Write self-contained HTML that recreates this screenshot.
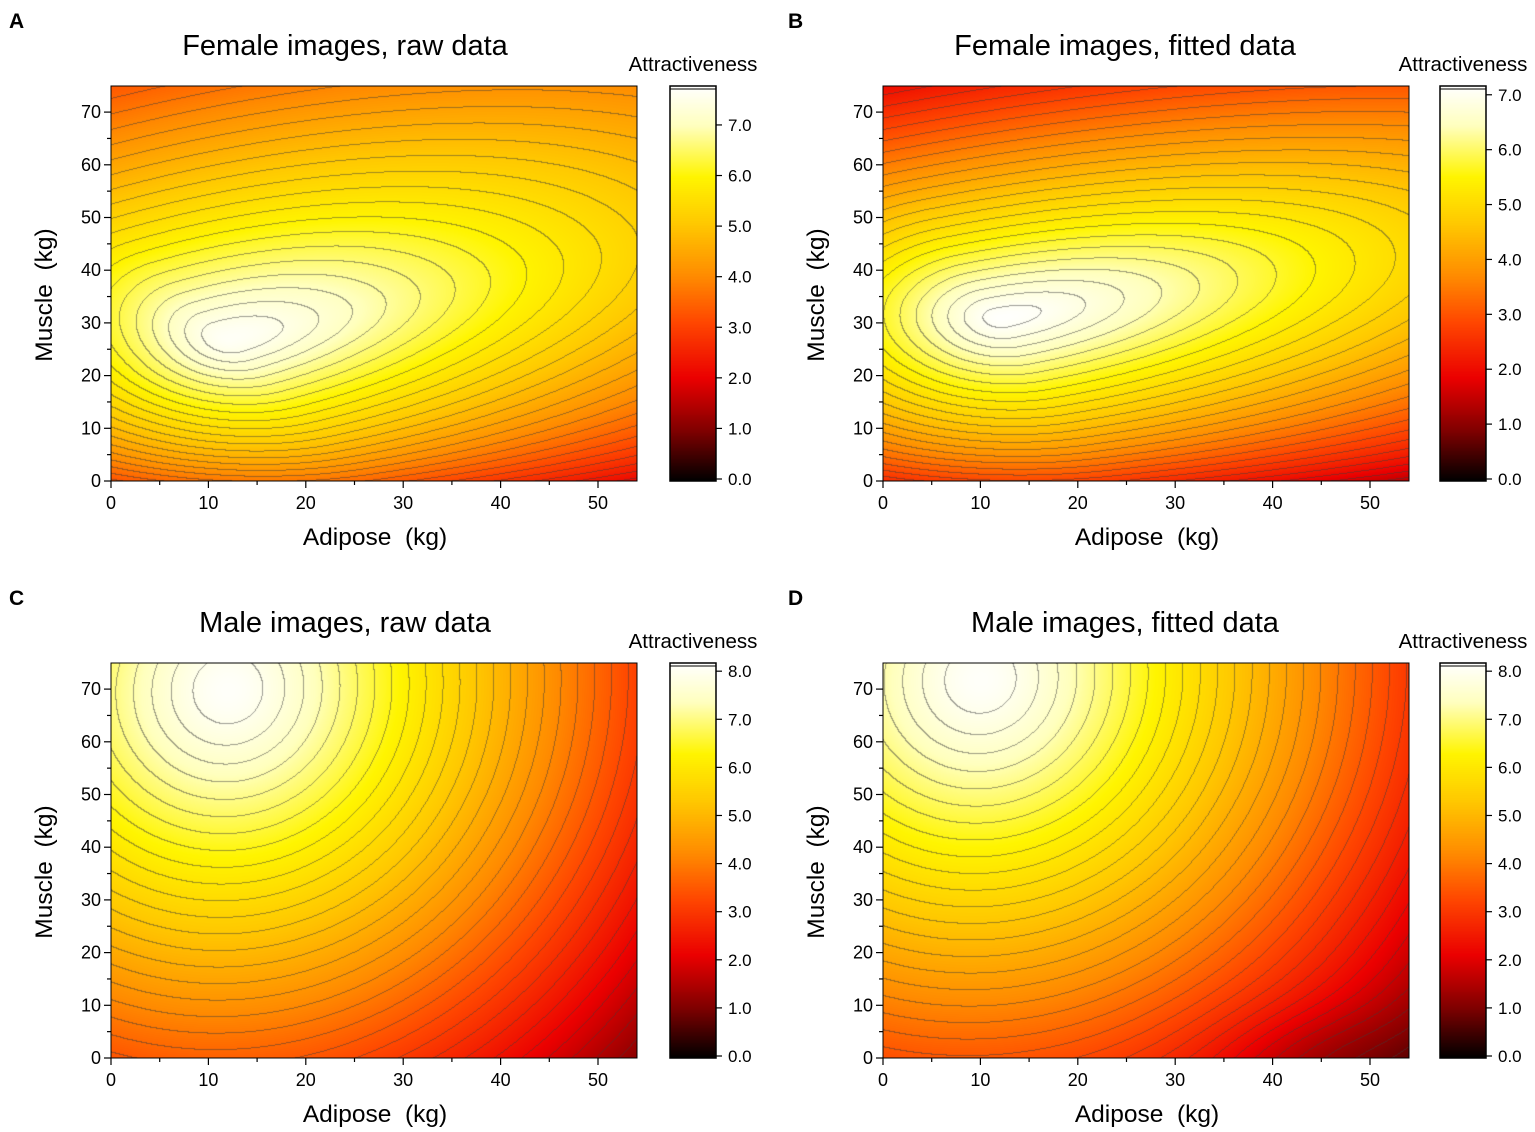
<!DOCTYPE html>
<html><head><meta charset="utf-8">
<style>
body{margin:0;background:#fff;width:1535px;height:1132px;position:relative;overflow:hidden;font-family:"Liberation Sans",Arial,sans-serif;color:#000}
canvas{position:absolute}
</style></head><body>
<svg id="svg" width="1535" height="1132" style="position:absolute;left:0;top:0;z-index:2" xmlns="http://www.w3.org/2000/svg"></svg>
<script>
const stops=[[0,0,0,0],[0.13,130,0,0],[0.26,235,0,0],[0.4,255,70,0],[0.52,255,140,0],[0.65,255,200,0],[0.77,255,245,0],[0.9,255,255,190],[1,255,255,255]];
function cmap(t){t=Math.max(0,Math.min(1,t));for(let i=1;i<stops.length;i++){if(t<=stops[i][0]){const a=stops[i-1],b=stops[i],u=(t-a[0])/(b[0]-a[0]);return [a[1]+u*(b[1]-a[1]),a[2]+u*(b[2]-a[2]),a[3]+u*(b[3]-a[3])];}}return [255,255,255];}
function ell(px,py,ang,suN,suP,svN,svP,a,q,pk,bot){const z=Math.pow(0.1,q/2);return (x,y)=>{const dx=x-px,dy=y-py,ca=Math.cos(ang),sa=Math.sin(ang);let u=dx*ca+dy*sa,v=-dx*sa+dy*ca;u/=u<0?suN:suP;v/=v<0?svN:svP;const r2=u*u+v*v;return pk-a*(Math.pow(0.1+r2,q/2)-z)-bot*Math.exp(-y/8);};}
function quad(px,py,A,B,C,pk,dip){return (x,y)=>{const dx=x-px,dy=y-py;const D2=Math.max(0,A*dx*dx+B*dy*dy+2*C*dx*dy);let f=pk-(Math.sqrt(0.25+D2)-0.5);if(dip)f-=dip*Math.exp(-((x-44)*(x-44)/120+y*y/90));return f;};}
const panels=[
{ox:0,oy:0,L:'A',title:'Female images, raw data',max:7.77,ticks:[0,1,2,3,4,5,6,7],f:ell(12,27,0.5,7.5,19,9,10.5,1.45,0.8,7.7,0.9)},
{ox:772,oy:0,L:'B',title:'Female images, fitted data',max:7.16,ticks:[0,1,2,3,4,5,6,7],f:ell(12,31,0.35,8,20,9,8.5,1.35,0.85,7.15,0.9),cbx:1440},
{ox:0,oy:577,L:'C',title:'Male images, raw data',max:8.17,ticks:[0,1,2,3,4,5,6,7,8],f:quad(12,70,0.0165,0.0050,-0.0003,8.1,0)},
{ox:772,oy:577,L:'D',title:'Male images, fitted data',max:8.17,ticks:[0,1,2,3,4,5,6,7,8],f:quad(10,72,0.0158,0.0050,-0.0003,8.1,0.4),cbx:1440}
];
const svg=document.getElementById('svg');let s='';
const W=526,H=395,step=0.22;
for(const p of panels){
 const X0=p.ox+111,Y0=p.oy+86;
 const cv=document.createElement('canvas');cv.width=W;cv.height=H;cv.style.left=X0+'px';cv.style.top=Y0+'px';document.body.appendChild(cv);
 const ctx=cv.getContext('2d');const img=ctx.createImageData(W,H);
 const F=new Float32Array((W+1)*(H+1));
 for(let j=0;j<=H;j++)for(let i=0;i<=W;i++){F[j*(W+1)+i]=p.f(i/W*54,(H-j)/H*75);}
 for(let j=0;j<H;j++)for(let i=0;i<W;i++){const v=F[j*(W+1)+i];let c=cmap(v/p.max);
  const l=Math.floor(v/step),r=Math.floor(F[j*(W+1)+i+1]/step),d=Math.floor(F[(j+1)*(W+1)+i]/step);
  if(l!==r||l!==d){c=[c[0]*0.5+30,c[1]*0.5+30,c[2]*0.5+30];}
  const k=(j*W+i)*4;img.data[k]=c[0];img.data[k+1]=c[1];img.data[k+2]=c[2];img.data[k+3]=255;}
 ctx.putImageData(img,0,0);
 const cbx=p.cbx||(p.ox+670),cw=46;
 const cb=document.createElement('canvas');cb.width=cw;cb.height=H;cb.style.left=cbx+'px';cb.style.top=Y0+'px';document.body.appendChild(cb);
 const c2=cb.getContext('2d');for(let j=0;j<H;j++){const c=cmap((H-j)/H);c2.fillStyle=`rgb(${c[0]|0},${c[1]|0},${c[2]|0})`;c2.fillRect(0,j,cw,1);}
 s+=`<rect x="${cbx}" y="${Y0}" width="${cw}" height="${H}" fill="none" stroke="#000" stroke-width="1.5"/>`;
 s+=`<line x1="${cbx}" y1="${Y0+3}" x2="${cbx+cw}" y2="${Y0+3}" stroke="#000" stroke-width="1"/>`;
 for(const t of p.ticks){const y=Y0+H-2-t*(H-2)/p.max;s+=`<line x1="${cbx+cw}" y1="${y}" x2="${cbx+cw+6}" y2="${y}" stroke="#000" stroke-width="1.2"/><text x="${cbx+cw+12}" y="${y+6}" font-size="17">${t.toFixed(1)}</text>`;}
 s+=`<text x="${cbx+23}" y="${p.oy+71}" font-size="20.5" text-anchor="middle">Attractiveness</text>`;
 s+=`<rect x="${X0}" y="${Y0}" width="${W}" height="${H}" fill="none" stroke="#000" stroke-width="1"/>`;
 const yb=Y0+H;
 for(let v=0;v<=70;v+=5){const y=yb-v*52.7/10;s+=`<line x1="${X0-(v%10?4:7)}" y1="${y}" x2="${X0}" y2="${y}" stroke="#000" stroke-width="1.2"/>`;if(v%10==0)s+=`<text x="${X0-10}" y="${y+6}" font-size="18" text-anchor="end">${v}</text>`;}
 for(let v=0;v<=50;v+=5){const x=X0+v*97.4/10;s+=`<line x1="${x}" y1="${yb}" x2="${x}" y2="${yb+(v%10?4:7)}" stroke="#000" stroke-width="1.2"/>`;if(v%10==0)s+=`<text x="${x}" y="${yb+28}" font-size="18" text-anchor="middle">${v}</text>`;}
 s+=`<text x="${p.ox+375}" y="${p.oy+545}" font-size="24.5" text-anchor="middle" xml:space="preserve">Adipose  (kg)</text>`;
 s+=`<text transform="translate(${p.ox+52},${p.oy+295}) rotate(-90)" font-size="24.5" text-anchor="middle" xml:space="preserve">Muscle  (kg)</text>`;
 s+=`<text x="${p.ox+(p.L=='A'||p.L=='C'?345:353)}" y="${p.oy+55}" font-size="29" text-anchor="middle">${p.title}</text>`;
 s+=`<text x="${p.ox+(p.ox?16:9)}" y="${p.oy+28}" font-size="21" font-weight="bold">${p.L}</text>`;
}
svg.innerHTML=s;
</script>
</body></html>
